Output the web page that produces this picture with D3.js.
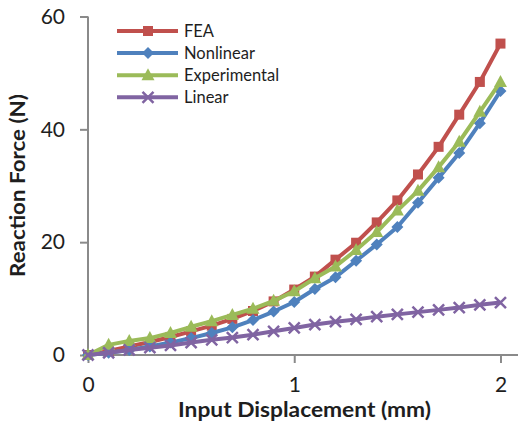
<!DOCTYPE html>
<html>
<head>
<meta charset="utf-8">
<script src="https://cdn.jsdelivr.net/npm/d3@7"></script>
<style>
  html, body { margin: 0; padding: 0; background: #fff; }
  svg { display: block; font-family: Lato, "Open Sans", sans-serif; }
</style>
</head>
<body>
<svg id="chart" width="518" height="431"></svg>
<script>
// Input displacement (mm)
const displacement = [0, 0.1, 0.2, 0.3, 0.4, 0.5, 0.6, 0.7, 0.8, 0.9, 1.0,
                      1.1, 1.2, 1.3, 1.4, 1.5, 1.6, 1.7, 1.8, 1.9, 2.0];

// Reaction force (N) per model
const feaForce = [0, 0.7, 1.5, 2.3, 3.2, 4.2, 5.2, 6.4, 7.8, 9.5, 11.6,
                  13.9, 16.9, 19.9, 23.5, 27.4, 32.0, 36.9, 42.6, 48.4, 55.2];
const nonlinearForce = [0, 0.4, 0.9, 1.5, 2.2, 3.0, 3.9, 4.9, 6.2, 7.7, 9.4,
                        11.7, 13.8, 16.7, 19.6, 22.7, 27.0, 31.4, 35.8, 41.1, 46.8];
const experimentalForce = [0, 1.8, 2.5, 3.0, 3.9, 5.0, 6.0, 7.1, 8.2, 9.6, 11.3,
                           13.6, 15.7, 18.6, 21.8, 25.6, 29.1, 33.3, 37.8, 43.1, 48.4];
const linearForce = [0, 0.4, 0.9, 1.3, 1.7, 2.2, 2.7, 3.1, 3.6, 4.2, 4.8,
                     5.4, 5.9, 6.3, 6.8, 7.2, 7.6, 8.0, 8.4, 8.9, 9.3];

const seriesNames = ["FEA", "Nonlinear", "Experimental", "Linear"];
const xTicks = [0, 1, 2];
const yTicks = [0, 20, 40, 60];

const series = [
  { name: seriesNames[0], values: feaForce,          color: "#C0504D", marker: "square" },
  { name: seriesNames[1], values: nonlinearForce,    color: "#4F81BD", marker: "diamond" },
  { name: seriesNames[2], values: experimentalForce, color: "#9BBB59", marker: "triangle" },
  { name: seriesNames[3], values: linearForce,       color: "#8064A2", marker: "cross" }
];

const svg = d3.select("#chart");
const axisColor = "#8a8a8a";
const textColor = "#1e1e1e";

const x = d3.scaleLinear().domain([0, 2.085]).range([88, 518]);
const y = d3.scaleLinear().domain([0, 60]).range([355, 16.5]);

// Axes
const xAxis = svg.append("g")
  .attr("transform", `translate(0,${y(0)})`)
  .call(d3.axisBottom(x).tickValues(xTicks).tickSize(8).tickPadding(14).tickFormat(d3.format("d")));
const yAxis = svg.append("g")
  .attr("transform", `translate(${x(0)},0)`)
  .call(d3.axisLeft(y).tickValues(yTicks).tickSize(8).tickPadding(15).tickFormat(d3.format("d")));

[xAxis, yAxis].forEach(g => {
  g.selectAll(".tick line").attr("stroke", axisColor).attr("stroke-width", 2);
  g.selectAll(".tick text").attr("fill", textColor).style("font-size", "21px")
    .style("font-family", "Lato, sans-serif");
});
// axis lines without end caps
xAxis.select(".domain").attr("stroke", axisColor).attr("stroke-width", 2)
  .attr("d", `M${x(0)},0H${x.range()[1]}`);
yAxis.select(".domain").attr("stroke", axisColor).attr("stroke-width", 2)
  .attr("d", `M0,${y(0)}V${y(60)}`);

// Axis titles
svg.append("text")
  .attr("x", 304.5).attr("y", 417)
  .attr("text-anchor", "middle")
  .attr("fill", textColor)
  .attr("textLength", 253).attr("lengthAdjust", "spacingAndGlyphs")
  .style("font-size", "20px").style("font-weight", "bold")
  .text("Input Displacement (mm)");

svg.append("text")
  .attr("transform", `translate(25,185.5) rotate(-90)`)
  .attr("text-anchor", "middle")
  .attr("fill", textColor)
  .attr("textLength", 183).attr("lengthAdjust", "spacingAndGlyphs")
  .style("font-size", "20px").style("font-weight", "bold")
  .text("Reaction Force (N)");

// Marker shapes
function drawMarker(g, type, color) {
  if (type === "square") {
    g.append("rect").attr("x", -5).attr("y", -5).attr("width", 10).attr("height", 10)
      .attr("fill", color);
  } else if (type === "diamond") {
    g.append("path").attr("d", "M0,-6L6,0L0,6L-6,0Z").attr("fill", color);
  } else if (type === "triangle") {
    g.append("path").attr("d", "M0,-7L6.5,5L-6.5,5Z").attr("fill", color);
  } else {
    g.append("path").attr("d", "M-5.5,-5.5L5.5,5.5M-5.5,5.5L5.5,-5.5")
      .attr("stroke", color).attr("stroke-width", 2.5).attr("fill", "none");
  }
}

const line = d3.line().x(d => x(d[0])).y(d => y(d[1]));

series.forEach(s => {
  const pts = displacement.map((dx, i) => [dx, s.values[i]]);
  const g = svg.append("g");
  g.append("path").datum(pts)
    .attr("d", line)
    .attr("fill", "none")
    .attr("stroke", s.color)
    .attr("stroke-width", 4)
    .attr("stroke-linejoin", "round");
  g.selectAll("g.m").data(pts).join("g")
    .attr("class", "m")
    .attr("transform", d => `translate(${x(d[0])},${y(d[1])})`)
    .each(function() { drawMarker(d3.select(this), s.marker, s.color); });
});

// Legend
const legend = svg.append("g");
series.forEach((s, i) => {
  const ly = 31 + i * 22.1;
  const g = legend.append("g");
  g.append("line").attr("x1", 117).attr("x2", 178).attr("y1", ly).attr("y2", ly)
    .attr("stroke", s.color).attr("stroke-width", 4);
  const m = g.append("g").attr("transform", `translate(148,${ly})`);
  drawMarker(m, s.marker, s.color);
  g.append("text").attr("x", 184).attr("y", ly).attr("dy", "0.35em")
    .attr("fill", textColor).style("font-size", "16.5px")
    .text(s.name);
});
</script>
</body>
</html>
